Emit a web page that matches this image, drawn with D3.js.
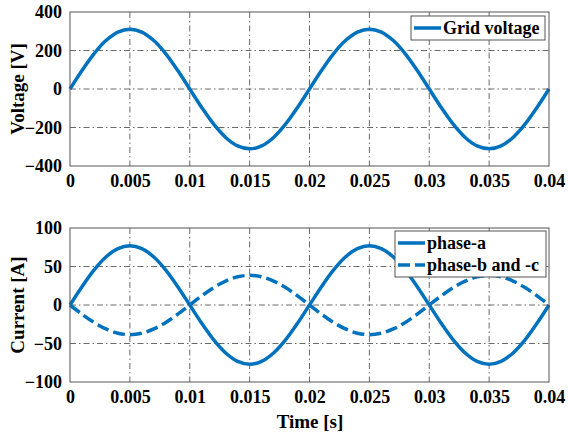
<!DOCTYPE html>
<html>
<head>
<meta charset="utf-8">
<script src="https://cdn.jsdelivr.net/npm/d3@7"></script>
<style>
  body { margin: 0; background: #fff; }
  svg { display: block; }
</style>
</head>
<body>
<svg width="568" height="434"></svg>
<script>
// sample instants [s]
var timeS = [0, 0.001, 0.002, 0.003, 0.004, 0.005, 0.006, 0.007, 0.008, 0.009,
  0.010, 0.011, 0.012, 0.013, 0.014, 0.015, 0.016, 0.017, 0.018, 0.019,
  0.020, 0.021, 0.022, 0.023, 0.024, 0.025, 0.026, 0.027, 0.028, 0.029,
  0.030, 0.031, 0.032, 0.033, 0.034, 0.035, 0.036, 0.037, 0.038, 0.039, 0.040];

var gridVoltage = [0, 96.1, 182.8, 251.6, 295.8, 311, 295.8, 251.6, 182.8, 96.1,
  0, -96.1, -182.8, -251.6, -295.8, -311, -295.8, -251.6, -182.8, -96.1,
  0, 96.1, 182.8, 251.6, 295.8, 311, 295.8, 251.6, 182.8, 96.1,
  0, -96.1, -182.8, -251.6, -295.8, -311, -295.8, -251.6, -182.8, -96.1, 0];

var phaseA = [0, 23.8, 45.3, 62.3, 73.2, 77, 73.2, 62.3, 45.3, 23.8,
  0, -23.8, -45.3, -62.3, -73.2, -77, -73.2, -62.3, -45.3, -23.8,
  0, 23.8, 45.3, 62.3, 73.2, 77, 73.2, 62.3, 45.3, 23.8,
  0, -23.8, -45.3, -62.3, -73.2, -77, -73.2, -62.3, -45.3, -23.8, 0];

var phaseBC = [0, -11.9, -22.6, -31.1, -36.6, -38.5, -36.6, -31.1, -22.6, -11.9,
  0, 11.9, 22.6, 31.1, 36.6, 38.5, 36.6, 31.1, 22.6, 11.9,
  0, -11.9, -22.6, -31.1, -36.6, -38.5, -36.6, -31.1, -22.6, -11.9,
  0, 11.9, 22.6, 31.1, 36.6, 38.5, 36.6, 31.1, 22.6, 11.9, 0];

var xTicks = [0, 0.005, 0.01, 0.015, 0.02, 0.025, 0.03, 0.035, 0.04];
var xTickLabels = ["0", "0.005", "0.01", "0.015", "0.02", "0.025", "0.03", "0.035", "0.04"];
var voltTicks = [-400, -200, 0, 200, 400];
var currTicks = [-100, -50, 0, 50, 100];

var blue = "#0072bd";
var serif = "Liberation Serif";
var svg = d3.select("svg");

var x = d3.scaleLinear().domain([0, 0.04]).range([70, 549]);

function label(sel, size) {
  return sel.attr("font-family", serif).attr("font-weight", "bold")
    .attr("font-size", size).attr("fill", "#000");
}

function panel(top, bottom, domain, yTicks, yLabel, series, legend) {
  var y = d3.scaleLinear().domain(domain).range([bottom, top]);
  var g = svg.append("g");

  // grid
  g.append("g").selectAll("line").data(xTicks.slice(1, -1)).enter().append("line")
      .attr("x1", function(d) { return x(d); }).attr("x2", function(d) { return x(d); })
      .attr("y1", top).attr("y2", bottom)
      .attr("stroke", "#444").attr("stroke-width", 0.8).attr("stroke-dasharray", "6,3,1.5,3");
  g.append("g").selectAll("line").data(yTicks.slice(1, -1)).enter().append("line")
      .attr("y1", function(d) { return y(d); }).attr("y2", function(d) { return y(d); })
      .attr("x1", 70).attr("x2", 549)
      .attr("stroke", "#444").attr("stroke-width", 0.8).attr("stroke-dasharray", "6,3,1.5,3");

  // curves
  var line = d3.line()
      .x(function(d, i) { return x(timeS[i]); })
      .y(function(d) { return y(d); })
      .curve(d3.curveCatmullRom);
  series.forEach(function(s) {
    g.append("path").datum(s.values)
        .attr("d", line).attr("fill", "none")
        .attr("stroke", blue).attr("stroke-width", 3.5)
        .attr("stroke-dasharray", s.dash || null);
  });

  // frame
  g.append("rect").attr("x", 70).attr("y", top).attr("width", 549 - 70).attr("height", bottom - top)
      .attr("fill", "none").attr("stroke", "#555").attr("stroke-width", 1);

  // axes
  var xAxis = d3.axisBottom(x).tickValues(xTicks)
      .tickFormat(function(d, i) { return xTickLabels[i]; }).tickSize(0).tickPadding(8);
  var ax = g.append("g").attr("transform", "translate(0," + bottom + ")").call(xAxis);
  var yAxis = d3.axisLeft(y).tickValues(yTicks).tickSize(0).tickPadding(8);
  var ay = g.append("g").attr("transform", "translate(70,0)").call(yAxis);
  [ax, ay].forEach(function(a) {
    a.select(".domain").remove();
    a.attr("font-family", serif);
    label(a.selectAll("text"), 18);
  });

  label(g.append("text"), 19)
      .attr("transform", "translate(24," + ((top + bottom) / 2) + ") rotate(-90)")
      .attr("text-anchor", "middle").text(yLabel);

  // legend
  var lg = g.append("g");
  lg.append("rect").attr("x", legend.x).attr("y", legend.y).attr("width", legend.w)
      .attr("height", series.length * 22 + 2)
      .attr("fill", "#fff").attr("stroke", "#555").attr("stroke-width", 1);
  series.forEach(function(s, i) {
    var cy = legend.y + 12 + i * 22;
    lg.append("line").attr("x1", legend.x + 3).attr("x2", legend.x + 30)
        .attr("y1", cy).attr("y2", cy)
        .attr("stroke", blue).attr("stroke-width", 3.5).attr("stroke-dasharray", s.dash || null);
    label(lg.append("text"), 18).attr("x", legend.x + 32).attr("y", cy + 6).text(s.name);
  });
}

panel(12, 166, [-400, 400], voltTicks, "Voltage [V]",
  [{ name: "Grid voltage", values: gridVoltage }],
  { x: 411, y: 16, w: 134 });

panel(228, 382, [-100, 100], currTicks, "Current [A]",
  [{ name: "phase-a", values: phaseA },
   { name: "phase-b and -c", values: phaseBC, dash: "12,5" }],
  { x: 395, y: 231, w: 151 });

label(svg.append("text"), 19).attr("x", 310).attr("y", 428)
    .attr("text-anchor", "middle").text("Time [s]");
</script>
</body>
</html>
